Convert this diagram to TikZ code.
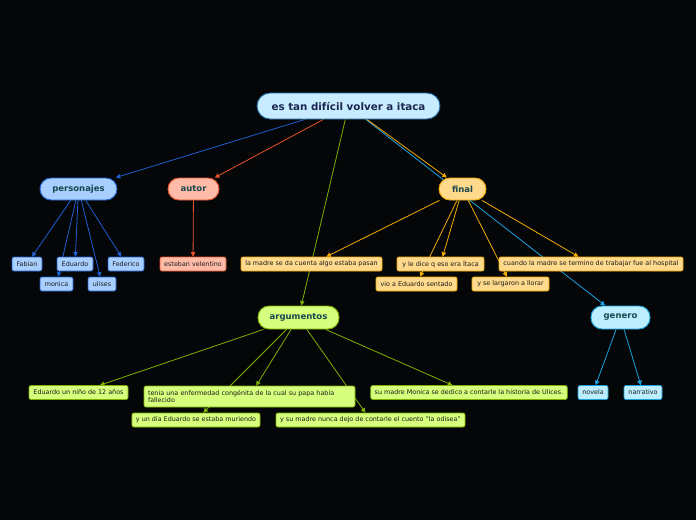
\documentclass[tikz,border=0pt]{standalone}
\usepackage{fontspec}
\setmainfont{DejaVu Sans}
\usetikzlibrary{arrows.meta}
\pgfdeclarelayer{bg}
\pgfsetlayers{bg,main}
\definecolor{bgc}{HTML}{040608}
\definecolor{rootfill}{HTML}{C8ECFF}
\definecolor{rootdraw}{HTML}{1F6AA0}
\definecolor{roottext}{HTML}{1A2550}
\definecolor{maintext}{HTML}{17474D}
\definecolor{leaftext}{HTML}{1A1A1A}
\definecolor{persfill}{HTML}{A8CFFF}
\definecolor{persdraw}{HTML}{1F5FD0}
\definecolor{autfill}{HTML}{FFBBA8}
\definecolor{autdraw}{HTML}{E8532B}
\definecolor{finfill}{HTML}{FFD98C}
\definecolor{findraw}{HTML}{F2AA00}
\definecolor{argfill}{HTML}{D5FF7C}
\definecolor{argdraw}{HTML}{7FB000}
\definecolor{genfill}{HTML}{BDEEFF}
\definecolor{gendraw}{HTML}{1AA3E0}
\tikzset{
  mainbox/.style={draw, rounded corners=11pt, line width=0.9pt, minimum height=22pt,
    font=\fontsize{8.5}{10}\selectfont\bfseries, text=maintext, inner sep=2pt},
  leafbox/.style={draw, rounded corners=2pt, line width=0.7pt, minimum height=14pt,
    font=\fontsize{6.4}{7.6}\selectfont, text=leaftext, inner xsep=4pt, inner ysep=1.5pt},
  arr/.style={-{Triangle[length=4.5pt,width=4.5pt]}, line width=0.8pt},
  pers/.style={fill=persfill, draw=persdraw},
  aut/.style={fill=autfill, draw=autdraw},
  fin/.style={fill=finfill, draw=findraw},
  arg/.style={fill=argfill, draw=argdraw},
  gen/.style={fill=genfill, draw=gendraw},
}
\begin{document}
\begin{tikzpicture}[x=1pt,y=-1pt]
\begin{pgfonlayer}{bg}
\fill[bgc] (0,0) rectangle (696,520);
\end{pgfonlayer}
\useasboundingbox (0,0) rectangle (696,520);
% root
\node[draw=rootdraw, fill=rootfill, rounded corners=13pt, line width=0.9pt,
  minimum width=183pt, minimum height=26pt, text=roottext,
  font=\fontsize{10.3}{12}\selectfont\bfseries] (root) at (348.5,106) {es tan difícil volver a itaca};
% main
\node[mainbox, pers, minimum width=77pt] (personajes) at (78.5,189) {personajes};
\node[mainbox, aut, minimum width=51pt] (autor) at (193.5,189) {autor};
\node[mainbox, fin, minimum width=47pt] (final) at (462.5,189) {final};
\node[mainbox, arg, minimum width=81pt, minimum height=23pt] (argumentos) at (298.5,317.5) {argumentos};
\node[mainbox, gen, minimum width=59pt, minimum height=23pt] (genero) at (620.5,317.5) {genero};
% personajes leaves
\node[leafbox, pers, minimum width=30pt] (fabian) at (27,264) {Fabian};
\node[leafbox, pers, minimum width=36pt] (eduardo) at (75,264) {Eduardo};
\node[leafbox, pers, minimum width=36pt] (federico) at (126,264) {Federico};
\node[leafbox, pers, minimum width=33pt] (monica) at (56.5,284) {monica};
\node[leafbox, pers, minimum width=28pt] (ulises) at (102,284) {ulises};
% autor leaf
\node[leafbox, aut, minimum width=66pt] (esteban) at (193,264) {esteban velentino};
% final leaves
\node[leafbox, fin, minimum width=141pt] (madre) at (311.5,264) {la madre se da cuenta algo estaba pasan};
\node[leafbox, fin, minimum width=87pt] (itaca) at (440.5,264) {y le dice q eso era Ítaca};
\node[leafbox, fin, minimum width=184pt] (hospital) at (591,264) {cuando la madre se termino de trabajar fue al hospital};
\node[leafbox, fin, minimum width=81pt] (vio) at (416.5,284) {vio a Eduardo sentado};
\node[leafbox, fin, minimum width=77pt] (llorar) at (510.5,284) {y se largaron a llorar};
% argumentos leaves
\node[leafbox, arg, minimum width=99pt] (nino) at (78.5,392.5) {Eduardo un niño de 12 años};
\node[leafbox, arg, text width=203pt, align=left, minimum height=21pt] (tenia) at (249.5,396.5)
  {tenia una enfermedad congénita de la cual su papa había\\fallecido};
\node[leafbox, arg, minimum width=128pt] (muriendo) at (196,420) {y un día Eduardo se estaba muriendo};
\node[leafbox, arg, minimum width=189pt] (odisea) at (370.5,420) {y su madre nunca dejo de contarle el cuento "la odisea"};
\node[leafbox, arg, minimum width=196pt] (ulices) at (469,392.5) {su madre Monica se dedico a contarle la historia de Ulices.};
% genero leaves
\node[leafbox, gen, minimum width=30pt] (novela) at (593,392.5) {novela};
\node[leafbox, gen, minimum width=38pt] (narrativo) at (643,392.5) {narrativo};
% connectors
\begin{pgfonlayer}{bg}
\draw[arr, persdraw] (root) -- (personajes);
\draw[arr, autdraw] (root) -- (autor);
\draw[arr, argdraw] (root) -- (argumentos);
\draw[arr, gendraw] (root) -- (genero);
\draw[arr, findraw] (root) -- (final);
\foreach \c in {fabian,eduardo,federico,monica,ulises}
  \draw[arr, persdraw] (personajes) -- (\c);
\draw[arr, autdraw] (autor) -- (esteban);
\foreach \c in {madre,itaca,hospital,vio,llorar}
  \draw[arr, findraw] (final) -- (\c);
\foreach \c in {nino,tenia,muriendo,odisea,ulices}
  \draw[arr, argdraw] (argumentos) -- (\c);
\foreach \c in {novela,narrativo}
  \draw[arr, gendraw] (genero) -- (\c);
\end{pgfonlayer}
\end{tikzpicture}
\end{document}
